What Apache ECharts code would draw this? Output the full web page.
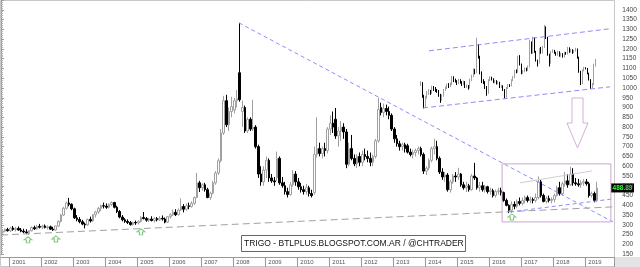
<!DOCTYPE html>
<html><head><meta charset="utf-8">
<script src="https://cdn.jsdelivr.net/npm/echarts@6/dist/echarts.min.js"></script>
<style>html,body{margin:0;padding:0;background:#fff}#c{width:640px;height:267px}</style>
</head><body><div id="c"></div>
<script>
// ---- monthly candles [open, high, low, close], Oct 2000 .. May 2019 ----
const c2000 = [[262,272,255,268],[268,282,262,276],[276,285,266,270]];
const c2001 = [[270,290,264,284],[284,294,270,276],[276,290,266,282],[282,292,270,274],[274,284,262,268],[268,280,258,264],[264,278,252,260],[260,272,248,270],[270,292,266,286],[286,296,274,280],[280,300,276,292],[292,305,282,288]];
const c2002 = [[288,300,278,294],[294,302,282,286],[286,298,276,290],[290,296,274,278],[278,290,270,274],[274,296,270,294],[294,322,290,318],[318,356,312,350],[350,392,345,385],[385,420,378,412],[412,438,395,405],[405,410,375,382]];
const c2003 = [[382,388,330,336],[336,350,318,328],[328,340,308,316],[316,326,298,304],[304,312,282,300],[300,332,296,328],[328,342,312,320],[320,356,316,352],[352,372,338,366],[366,392,356,384],[384,404,370,398],[398,414,384,396]];
const c2004 = [[396,410,382,390],[390,410,384,404],[404,420,396,414],[414,418,384,390],[390,398,360,368],[368,376,334,340],[340,350,318,326],[326,334,310,318],[318,328,304,312],[312,320,296,302],[302,316,296,312],[312,322,300,310]];
const c2005 = [[310,324,302,318],[318,345,312,338],[338,366,328,332],[332,340,316,324],[324,336,314,330],[330,344,318,322],[322,338,312,332],[332,340,318,326],[326,344,320,334],[334,348,322,330],[330,338,308,314],[314,345,310,342]];
const c2006 = [[342,360,332,352],[352,378,345,364],[364,380,345,352],[352,384,348,376],[376,436,372,394],[394,406,364,380],[380,410,372,398],[398,414,380,394],[394,420,388,410],[410,445,402,440],[440,566,436,515],[515,525,468,490]];
const c2007 = [[490,512,475,505],[505,515,470,480],[480,490,436,440],[440,470,428,462],[462,525,455,515],[515,575,505,565],[565,640,555,628],[628,790,620,770],[770,960,760,935],[935,965,800,812],[812,900,780,880],[880,955,850,905]];
const c2008 = [[888,950,870,935],[935,990,900,945],[1078,1333,930,940],[880,935,800,900],[900,910,770,780],[780,850,770,840],[840,850,780,790],[790,940,780,800],[800,810,690,700],[700,710,540,560],[560,600,500,520],[520,600,500,580]];
const c2009 = [[580,650,540,630],[630,640,520,540],[540,560,515,525],[525,545,500,520],[540,675,525,640],[640,650,505,515],[515,545,490,500],[500,520,455,470],[470,490,440,455],[455,520,450,505],[505,580,495,560],[560,575,500,520]];
const c2010 = [[520,540,480,495],[495,515,465,480],[480,500,455,470],[470,510,455,490],[490,500,445,460],[460,480,440,450],[465,700,455,660],[660,850,645,690],[690,720,650,665],[665,700,640,690],[690,720,650,680],[680,800,665,790]];
const c2011 = [[790,860,760,820],[820,880,770,800],[840,898,740,755],[755,800,700,780],[780,830,730,800],[800,820,740,775],[775,790,590,610],[610,720,600,690],[690,760,630,640],[640,660,600,612],[612,660,590,650],[650,670,600,620]];
const c2012 = [[620,680,600,660],[660,690,630,650],[650,680,620,640],[640,670,600,620],[620,660,600,650],[650,740,640,730],[730,950,720,890],[900,925,860,875],[875,920,850,895],[895,915,860,880],[880,905,840,860],[860,870,780,790]];
const c2013 = [[790,800,720,740],[740,760,700,715],[715,730,680,700],[700,720,680,710],[710,720,670,690],[705,715,665,672],[672,690,650,660],[660,685,640,670],[670,690,650,680],[680,700,660,690],[690,700,650,660],[660,670,560,575]];
const c2014 = [[575,600,555,590],[590,640,580,630],[630,700,620,690],[690,740,660,700],[700,730,630,640],[640,650,560,570],[570,590,530,545],[545,570,520,555],[555,565,470,480],[480,530,465,520],[520,560,510,550],[550,570,520,545]];
const c2015 = [[545,592,530,560],[560,565,495,505],[505,520,480,490],[490,520,468,500],[500,510,470,480],[480,560,475,550],[550,617,530,540],[540,545,480,490],[490,520,470,500],[500,520,470,480],[480,505,465,495],[495,500,460,470]];
const c2016 = [[470,490,455,475],[475,485,440,450],[450,480,440,470],[470,490,455,475],[475,490,450,465],[465,470,418,425],[425,435,395,400],[400,405,360,375],[375,420,360,405],[405,420,380,395],[395,430,385,420],[420,440,400,410]];
const c2017 = [[410,440,400,425],[425,450,410,440],[440,450,415,425],[425,445,410,430],[430,440,410,425],[425,460,415,440],[440,548,430,520],[520,530,440,450],[450,460,415,420],[420,445,410,435],[435,450,415,425],[425,440,410,430]];
const c2018 = [[430,460,415,450],[450,500,445,490],[490,520,450,460],[460,520,450,510],[510,570,495,525],[525,560,490,505],[505,597,500,560],[560,590,500,515],[515,540,500,510],[510,535,495,505],[505,530,490,515],[515,535,500,520]];
const c2019 = [[520,535,500,510],[510,520,440,450],[450,470,440,460],[460,470,415,425],[425,520,418,488.89]];

// ---- inset (recent period, magnified) [open, high, low, close] ----
const inset = [[1020,1035,1010,1026],[1026,1030,950,960],[960,965,895,904],[904,960,900,955],[955,985,945,975],[975,995,965,985],[985,990,965,975],[975,1012,970,1006],[1006,1010,985,995],[995,1005,980,990],[990,995,975,985],[985,990,955,965],[965,970,924,940],[940,968,935,960],[960,995,955,990],[990,1008,985,1000],[1000,1022,995,1016],[1016,1025,1000,1010],[1010,1028,1005,1020],[1020,1062,1015,1057],[1057,1060,1030,1040],[1040,1048,1028,1035],[1035,1040,1015,1025],[1025,1048,1020,1040],[1040,1045,1022,1030],[1030,1035,1010,1020],[1020,1038,1015,1030],[1030,1035,1000,1006],[1006,1018,1000,1010],[1010,1015,992,1000],[1000,1048,998,1042],[1042,1068,1035,1060],[1060,1100,1055,1093],[1093,1098,1070,1080],[1080,1257,1075,1211],[1211,1225,1150,1160],[1160,1165,1070,1078],[1078,1085,1025,1032],[1032,1045,1020,1030],[1030,1035,995,1001],[1001,1010,960,975],[975,1045,970,1040],[1040,1060,1035,1052],[1052,1058,1038,1045],[1045,1050,1025,1032],[1032,1042,1025,1035],[1035,1040,1018,1025],[1025,1036,1018,1030],[1030,1032,1000,1006],[1006,1016,1000,1010],[1010,1014,985,990],[990,995,945,955],[955,1005,950,1000],[1000,1020,995,1015],[1015,1020,1005,1011],[1011,1045,1008,1040],[1040,1062,1035,1057],[1057,1092,1050,1088],[1088,1095,1075,1080],[1080,1165,1078,1160],[1160,1168,1115,1120],[1120,1125,1070,1078],[1078,1092,1072,1085],[1085,1105,1080,1100],[1100,1104,1085,1093],[1093,1115,1088,1110],[1110,1246,1105,1231],[1231,1238,1175,1180],[1180,1262,1175,1257],[1257,1260,1180,1185],[1185,1190,1135,1140],[1140,1145,1110,1129],[1129,1205,1125,1200],[1200,1210,1175,1180],[1180,1215,1176,1211],[1211,1323,1205,1310],[1310,1315,1250,1257],[1257,1262,1165,1170],[1170,1175,1110,1129],[1129,1190,1125,1185],[1185,1198,1180,1190],[1190,1195,1175,1180],[1180,1185,1165,1170],[1170,1190,1165,1185],[1185,1188,1160,1165],[1165,1180,1160,1175],[1175,1178,1155,1160],[1160,1185,1156,1180],[1180,1184,1170,1175],[1175,1210,1172,1206],[1206,1208,1180,1185],[1185,1200,1182,1195],[1195,1198,1175,1180],[1180,1195,1178,1190],[1190,1205,1186,1200],[1200,1202,1150,1155],[1155,1160,1078,1083],[1083,1088,1015,1026],[1026,1095,1020,1090],[1090,1108,1085,1103],[1103,1106,1095,1100],[1100,1102,1070,1075],[1075,1078,1038,1042],[1042,1045,995,1006],[1006,1025,1000,1020],[1020,1124,1015,1119],[1119,1148,1110,1144]];

// ---- annotations, in [month slot, price] ----
const downTrend = [[89.25,1333],[229.5,315]];
const supportLine = [[0,248],[229.5,392]];
const insetUpper = [[160.5,1190],[228.4,1303]];
const insetLower = [[158.3,898],[228.4,1006]];
const boxLowLine = [[190.9,366],[229.5,433]];
const boxGrayLine = [[194.6,515],[221.6,576]];
const boxRect = [[187.9,612],[228.7,612],[228.7,315],[187.9,315],[187.9,612]];
const signalPts = [[10.1,223],[20.6,228],[52.5,264],[191.6,340]];
const lastPrice = 488.89;
const years = ['2001','2002','2003','2004','2005','2006','2007','2008','2009','2010','2011','2012','2013','2014','2015','2016','2017','2018','2019'];
const titleText = 'TRIGO - BTLPLUS.BLOGSPOT.COM.AR / @CHTRADER';

const candles = [].concat(c2000,c2001,c2002,c2003,c2004,c2005,c2006,c2007,c2008,c2009,c2010,c2011,c2012,c2013,c2014,c2015,c2016,c2017,c2018,c2019);
const SLOTS = 230;
const cats = [];
for (let i = 0; i < SLOTS; i++) { const m = 9 + i; cats.push((2000 + Math.floor(m / 12)) + '-' + (m % 12 + 1)); }
const isJan = (i) => (9 + i) % 12 === 0 && i > 0;
const toEC = rows => rows.map(r => [r[0], r[3], r[2], r[1]]);

const FONT = 'Liberation Sans';
const GT = 0, GH = 254.2;
const chart = echarts.init(document.getElementById('c'));
const lineS = (data, color, type, width) => ({
  type: 'line', xAxisIndex: 1, yAxisIndex: 0, data, showSymbol: false, silent: true, z: 4,
  lineStyle: { color, type, width: width || 1 }, animation: false
});
chart.setOption({
  animation: false,
  backgroundColor: '#fff',
  grid: [
    { left: 1, top: GT, width: SLOTS * 32 / 12, height: GH },
    { left: 419.8, top: GT, width: 176.7, height: GH }
  ],
  xAxis: [
    { type: 'category', gridIndex: 0, data: cats, boundaryGap: true, offset: 3,
      axisLine: { lineStyle: { color: '#9a9a9a' } },
      axisTick: { show: true, interval: (i) => isJan(i), length: 10, lineStyle: { color: '#9a9a9a' } },
      axisLabel: { interval: (i) => isJan(i), formatter: (v) => years[years.indexOf(v.split('-')[0])] || '',
        align: 'left', padding: [0,0,0,2], margin: 2, fontSize: 6, color: '#555', fontFamily: FONT },
      splitLine: { show: false } },
    { type: 'value', gridIndex: 0, min: 0, max: SLOTS, show: false },
    { type: 'category', gridIndex: 1, data: inset.map((d, i) => i), show: false, boundaryGap: true }
  ],
  yAxis: [
    { type: 'value', gridIndex: 0, position: 'right', min: 150, max: 1450, interval: 50,
      axisLine: { show: true, lineStyle: { color: '#9a9a9a' } },
      axisTick: { show: true, length: 3, lineStyle: { color: '#9a9a9a' } },
      minorTick: { show: true, splitNumber: 5, length: 2, lineStyle: { color: '#b0b0b0' } },
      axisLabel: { fontSize: 6.5, color: '#444', margin: 8, fontFamily: FONT,
        formatter: (v) => (v >= 150 && v <= 1400) ? String(v) : '' },
      splitLine: { show: false } },
    { type: 'value', gridIndex: 1, min: 150, max: 1450, show: false }
  ],
  series: [
    { type: 'candlestick', xAxisIndex: 0, yAxisIndex: 0, data: toEC(candles), barWidth: 2, z: 2,
      itemStyle: { color: '#ffffff', color0: '#000000', borderColor: '#a0a0a0', borderColor0: '#000000', borderWidth: 1 } },
    { type: 'candlestick', xAxisIndex: 2, yAxisIndex: 1, data: toEC(inset), barWidth: 1, z: 2,
      itemStyle: { color: '#ffffff', color0: '#000000', borderColor: '#a0a0a0', borderColor0: '#000000', borderWidth: 1 } },
    lineS(downTrend, '#8c8cff', [4,3]),
    lineS(supportLine, '#a0a0a0', [7,4]),
    lineS(insetUpper, '#8c8cff', [5,3]),
    lineS(insetLower, '#8c8cff', [5,3]),
    lineS(boxLowLine, '#8c8cff', [4,3]),
    lineS(boxGrayLine, '#cfcfcf', 'solid'),
    lineS(boxRect, '#c8a6cf', 'solid'),
    { type: 'scatter', xAxisIndex: 1, yAxisIndex: 0, data: signalPts, z: 5, silent: true,
      symbol: 'path://M5,0 L10,5 L7,5 L7,10 L3,10 L3,5 L0,5 Z', symbolSize: [8, 6],
      itemStyle: { color: '#ffffff', borderColor: '#5cbf5c', borderWidth: 1 } }
  ]
});
const yLast = chart.convertToPixel({ yAxisIndex: 0 }, lastPrice);
chart.setOption({
  graphic: [
    { type: 'rect', shape: { x: 0.5, y: 0.5, width: 614, height: 266 }, style: { fill: 'none', stroke: '#c8c8c8', lineWidth: 1 }, silent: true, z: 0 },
    { type: 'rect', shape: { x: 615, y: 257, width: 25, height: 10 }, style: { fill: '#e4e4e4' }, silent: true },
    { type: 'polygon', shape: { points: [[572,98],[583,98],[583,123],[588,123],[577.5,148],[567,123],[572,123]] },
      style: { fill: '#fff', stroke: '#d2b2d6', lineWidth: 1 }, silent: true, z: 10 },
    { type: 'group', x: 241, y: 235, silent: true, z: 10, children: [
      { type: 'rect', shape: { x: 0.5, y: 0.5, width: 224, height: 16 }, style: { fill: '#fff', stroke: '#666', lineWidth: 1 } },
      { type: 'text', x: 3, y: 4, style: { text: titleText, font: '8.5px "Liberation Sans"', fill: '#111' } }
    ] },
    { type: 'group', x: 611, y: yLast - 4.5, silent: true, z: 10, children: [
      { type: 'rect', shape: { x: 0, y: 0, width: 23, height: 9 }, style: { fill: '#000' } },
      { type: 'text', x: 11.5, y: 1.5, style: { text: String(lastPrice), font: 'bold 6.5px "Liberation Sans"', fill: '#33ff33', align: 'center' } }
    ] }
  ]
});
</script>
</body></html>
